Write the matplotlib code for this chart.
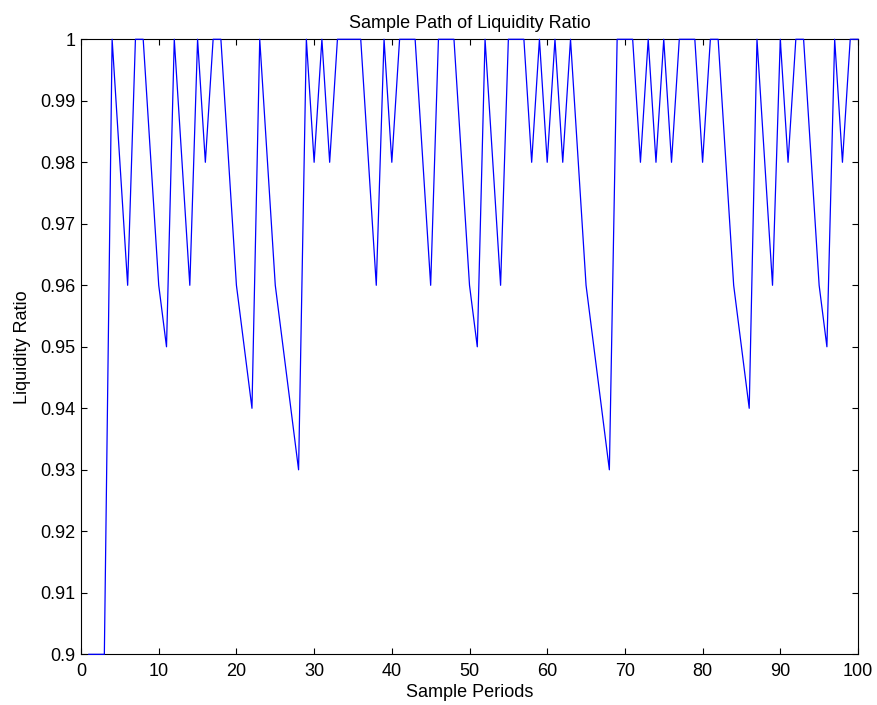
import numpy as np
import matplotlib
matplotlib.use("Agg")
import matplotlib.pyplot as plt

# Sample periods and liquidity ratio
periods = np.arange(1, 101)
ratio = [0.90, 0.90, 0.90, 1.00, 0.98, 0.96, 1.00, 1.00, 0.98, 0.96,
         0.95, 1.00, 0.98, 0.96, 1.00, 0.98, 1.00, 1.00, 0.98, 0.96,
         0.95, 0.94, 1.00, 0.98, 0.96, 0.95, 0.94, 0.93, 1.00, 0.98,
         1.00, 0.98, 1.00, 1.00, 1.00, 1.00, 0.98, 0.96, 1.00, 0.98,
         1.00, 1.00, 1.00, 0.98, 0.96, 1.00, 1.00, 1.00, 0.98, 0.96,
         0.95, 1.00, 0.98, 0.96, 1.00, 1.00, 1.00, 0.98, 1.00, 0.98,
         1.00, 0.98, 1.00, 0.98, 0.96, 0.95, 0.94, 0.93, 1.00, 1.00,
         1.00, 0.98, 1.00, 0.98, 1.00, 0.98, 1.00, 1.00, 1.00, 0.98,
         1.00, 1.00, 0.98, 0.96, 0.95, 0.94, 1.00, 0.98, 0.96, 1.00,
         0.98, 1.00, 1.00, 0.98, 0.96, 0.95, 1.00, 0.98, 1.00, 1.00]

xticks = np.arange(0, 101, 10)
yticks = np.round(np.arange(0.90, 1.001, 0.01), 2)
ytick_labels = ["0.9"] + ["%.2f" % v for v in yticks[1:-1]] + ["1"]

plt.rcParams['font.family'] = ['Liberation Sans', 'DejaVu Sans']

fig = plt.figure(figsize=(8.78, 7.05), dpi=100)
ax = fig.add_axes([0.0923, 0.0719, 0.8849, 0.8724])

# drawn over the box so the 0.9 / 1 stretches stay visible
ax.plot(periods, ratio, color="blue", linewidth=0.9, zorder=3, clip_on=False)

ax.set_xlim(0, 100)
ax.set_ylim(0.9, 1.0)
ax.set_xticks(xticks)
ax.set_yticks(yticks)
ax.set_yticklabels(ytick_labels)
ax.tick_params(direction="in", length=4.5, width=0.8, top=True, right=True,
               labelsize=13)
ax.tick_params(axis="x", pad=6)
ax.tick_params(axis="y", pad=4)
for s in ax.spines.values():
    s.set_linewidth(0.8)

ax.set_title("Sample Path of Liquidity Ratio", fontsize=13, pad=8)
ax.set_xlabel("Sample Periods", fontsize=13, labelpad=3)
ax.set_ylabel("Liquidity Ratio", fontsize=13, labelpad=7)

fig.savefig("out.png", dpi=100)
